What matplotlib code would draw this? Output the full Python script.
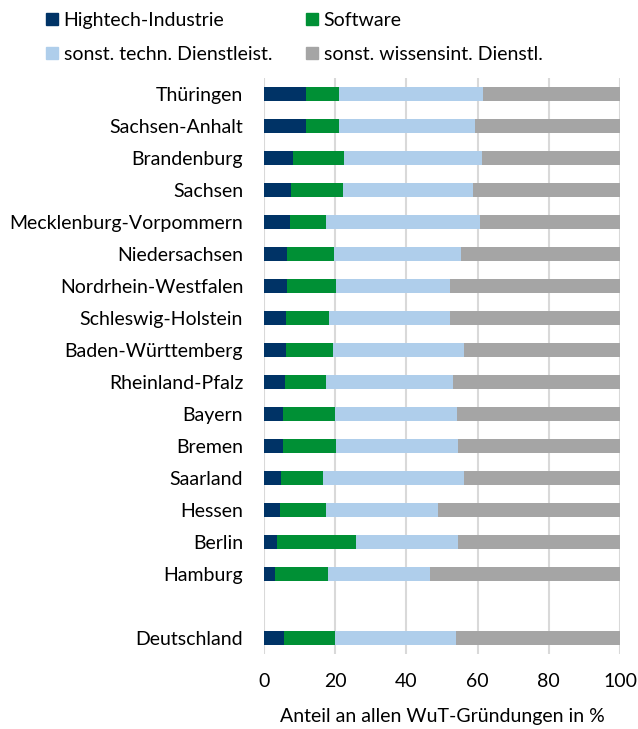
import matplotlib
matplotlib.use("Agg")
import matplotlib.pyplot as plt
from matplotlib.patches import Patch

plt.rcParams['font.family'] = ['Lato', 'DejaVu Sans']

regionen = ['Thüringen', 'Sachsen-Anhalt', 'Brandenburg', 'Sachsen',
            'Mecklenburg-Vorpommern', 'Niedersachsen', 'Nordrhein-Westfalen',
            'Schleswig-Holstein', 'Baden-Württemberg', 'Rheinland-Pfalz',
            'Bayern', 'Bremen', 'Saarland', 'Hessen', 'Berlin', 'Hamburg',
            'Deutschland']

hightech = [11.9, 11.7, 8.2, 7.5, 7.2, 6.4, 6.5, 6.1, 6.1, 5.9, 5.3, 5.2, 4.7, 4.5, 3.6, 3.1, 5.6]
software = [9.1, 9.5, 14.2, 14.7, 10.2, 13.2, 13.7, 12.1, 13.2, 11.4, 14.6, 15.0, 11.8, 12.9, 22.2, 14.8, 14.4]
techn_dl = [40.4, 38.1, 38.8, 36.6, 43.2, 35.8, 32.1, 34.1, 37.0, 35.8, 34.2, 34.4, 39.7, 31.4, 28.7, 28.7, 33.8]
wissen_dl = [38.6, 40.7, 38.8, 41.2, 39.4, 44.6, 47.7, 47.7, 43.7, 46.9, 45.9, 45.4, 43.8, 51.2, 45.5, 53.4, 46.2]

reihen = ['Hightech-Industrie', 'Software', 'sonst. techn. Dienstleist.', 'sonst. wissensint. Dienstl.']
farben = ['#003366', '#009035', '#AFCEEB', '#A5A5A5']

# Deutschland mit Abstand unter den Ländern
pos = list(range(16)) + [17]

fig = plt.figure(figsize=(6.38, 7.29), dpi=100)
ax = fig.add_axes([0.4138, 0.1029, 0.558, 0.790])

links = [0.0] * len(regionen)
for werte, name, farbe in zip([hightech, software, techn_dl, wissen_dl], reihen, farben):
    ax.barh(pos, werte, left=links, height=0.44, color=farbe, label=name, zorder=3)
    links = [a + b for a, b in zip(links, werte)]

fs = 14
ax.set_xlim(0, 100)
ax.set_ylim(17.5, -0.5)
ax.set_xticks([0, 20, 40, 60, 80, 100])
ax.set_yticks(pos)
ax.set_yticklabels(regionen, fontsize=fs)
ax.tick_params(axis='x', labelsize=fs, length=0, pad=14)
ax.tick_params(axis='y', length=0, pad=15)
ax.grid(axis='x', color='#D9D9D9', linewidth=1.5, zorder=0)
for s in ax.spines.values():
    s.set_visible(False)
ax.set_xlabel('Anteil an allen WuT-Gründungen in %', fontsize=fs, labelpad=13)

handles = [Patch(color=c) for c in farben]
order = [0, 2, 1, 3]
fig.legend([handles[i] for i in order], [reihen[i] for i in order], ncol=2,
           loc='upper left', bbox_to_anchor=(0.045, 1.008), frameon=False,
           fontsize=fs, handlelength=0.6, handleheight=0.6, handletextpad=0.3,
           columnspacing=1.75, labelspacing=0.9)

fig.savefig('out.png', dpi=100)
